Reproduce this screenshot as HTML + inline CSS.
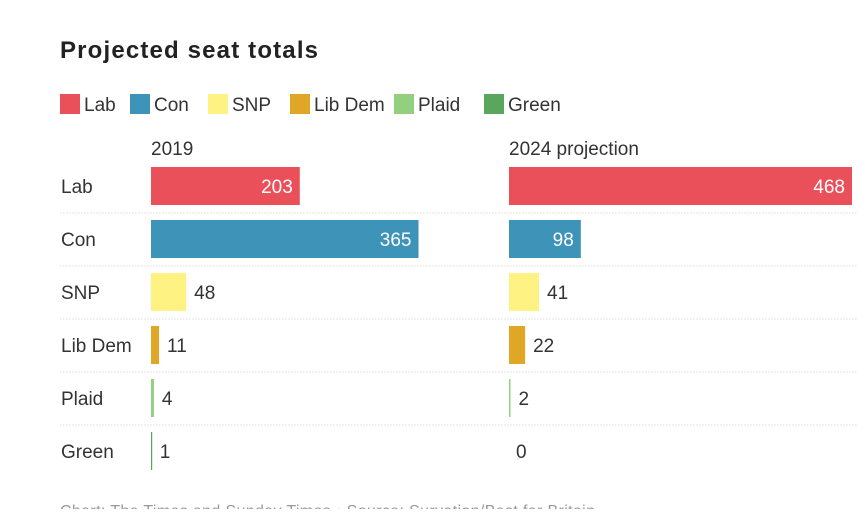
<!DOCTYPE html>
<html><head><meta charset="utf-8"><style>
body{margin:0;background:#fff;width:865px;height:509px;overflow:hidden;font-family:"Liberation Sans",sans-serif}
</style></head><body>
<svg id="chart" width="865" height="509" xmlns="http://www.w3.org/2000/svg" font-family="Liberation Sans, sans-serif">
<text x="60" y="58" font-size="24" font-weight="bold" fill="#222" textLength="258">Projected seat totals</text>
<g id="legend"></g>
<text x="151" y="155" font-size="19" fill="#333">2019</text>
<text x="509" y="155" font-size="19" fill="#333">2024 projection</text>
<g id="rows"></g>
<text x="60" y="516" font-size="16" fill="#999" textLength="535">Chart: The Times and Sunday Times • Source: Survation/Best for Britain</text>
</svg>
<script>
const parties = ["Lab","Con","SNP","Lib Dem","Plaid","Green"];
const colors = ["#e9505a","#3d93b8","#fef283","#e0a626","#92d07f","#5aa65c"];
const seats2019 = [203,365,48,11,4,1];
const seats2024 = [468,98,41,22,2,0];
const NS="http://www.w3.org/2000/svg";
function mk(t,a,p){const e=document.createElementNS(NS,t);for(const k in a)e.setAttribute(k,a[k]);p.appendChild(e);return e;}
const scale=v=>v*343/468;
const rowY=i=>167+i*53;
const lg=document.getElementById('legend');
const lx=[60,130,208,290,394,484];
parties.forEach((p,i)=>{
  const r=mk('rect',{x:lx[i],y:94,width:20,height:20,fill:colors[i]},lg);
  
  
  const t=mk('text',{x:lx[i]+24,y:111,'font-size':19,fill:'#333'},lg);t.textContent=p;
  
  
});
const rows=document.getElementById('rows');
parties.forEach((p,i)=>{
  const y=rowY(i);
  const lab=mk('text',{x:61,y:y+26,'font-size':19,fill:'#333'},rows);lab.textContent=p;
  
  
  if(i<parties.length-1){
    const l=mk('line',{x1:60,x2:858,y1:y+46,y2:y+46,stroke:'#ddd','stroke-width':1,'stroke-dasharray':'1.5,1.5'},rows);
    
    
  }
  [[151,seats2019[i],'2019'],[509,seats2024[i],'2024']].forEach(([x0,v,yr])=>{
    const w=scale(v);
    if(v>0){
      const b=mk('rect',{x:x0,y:y,width:Math.max(w,1.2),height:38,fill:colors[i]},rows);
      
      
    }
    const inside=w>50;
    const t=mk('text',{x:inside?x0+w-7:x0+w+(v>0?8:7),y:y+26,'font-size':19,fill:inside?'#fff':'#333','text-anchor':inside?'end':'start'},rows);
    t.textContent=v;
    
    
  });
});
</script>
</body></html>
